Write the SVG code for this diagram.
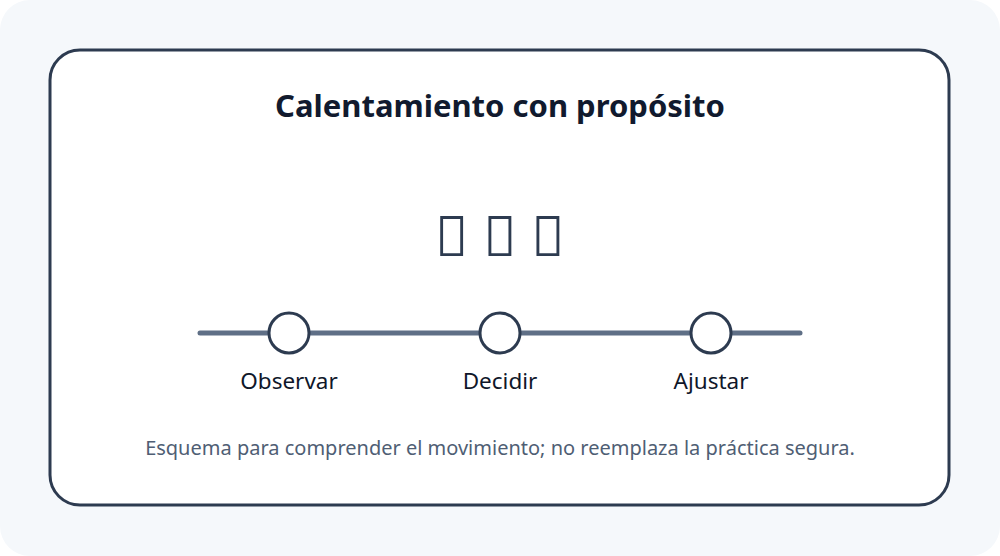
<svg xmlns="http://www.w3.org/2000/svg" width="1000" height="556" viewBox="0 0 1000 556">
<style>
text{font-family:"Noto Sans","Open Sans","DejaVu Sans",sans-serif}
.title{font-size:31px;font-weight:700;fill:#111a2e}
.icon{font-size:56px;fill:#2d3b50}
.lbl{font-size:22.5px;fill:#0f172a}
.foot{font-size:20px;fill:#4f5e74}
.node{fill:#fff;stroke:#2d3b50;stroke-width:3}
</style>
<rect x="0" y="0" width="1000" height="556" rx="30" fill="#f5f8fb"/>
<rect x="50" y="50" width="899" height="455" rx="30" fill="#fff" stroke="#2d3b50" stroke-width="3"/>
<text class="title" x="500" y="117" text-anchor="middle">Calentamiento con propósito</text>
<text class="icon" x="500" y="256" text-anchor="middle">&#xE000; &#xE001; &#xE002;</text>
<g id="connectors">
<line x1="200" y1="333" x2="800" y2="333" stroke="#5f6f86" stroke-width="5" stroke-linecap="round"/>
</g>
<g id="observar">
<circle class="node" cx="289" cy="333" r="20"/>
<text class="lbl" x="289" y="389" text-anchor="middle">Observar</text>
</g>
<g id="decidir">
<circle class="node" cx="500" cy="333" r="20"/>
<text class="lbl" x="500" y="389" text-anchor="middle">Decidir</text>
</g>
<g id="ajustar">
<circle class="node" cx="711" cy="333" r="20"/>
<text class="lbl" x="711" y="389" text-anchor="middle">Ajustar</text>
</g>
<text class="foot" x="500" y="455" text-anchor="middle">Esquema para comprender el movimiento; no reemplaza la práctica segura.</text>
</svg>
